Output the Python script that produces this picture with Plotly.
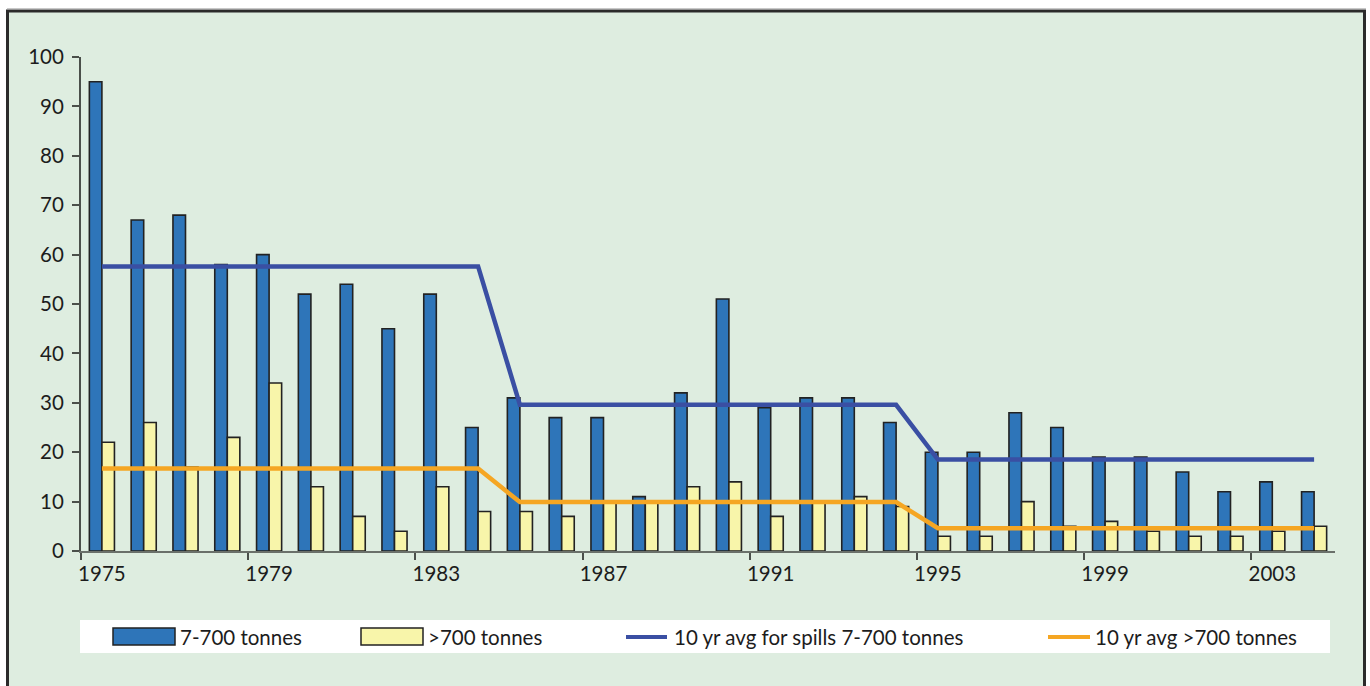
import plotly.graph_objects as go

years = [str(y) for y in range(1975, 2005)]
small_spills = [95, 67, 68, 58, 60, 52, 54, 45, 52, 25,
                31, 27, 27, 11, 32, 51, 29, 31, 31, 26,
                20, 20, 28, 25, 19, 19, 16, 12, 14, 12]
large_spills = [22, 26, 17, 23, 34, 13, 7, 4, 13, 8,
                8, 7, 10, 10, 13, 14, 7, 10, 11, 9,
                3, 3, 10, 5, 6, 4, 3, 3, 4, 5]
avg_small = [57.6] * 10 + [29.6] * 10 + [18.5] * 10
avg_large = [16.7] * 10 + [9.9] * 10 + [4.6] * 10

W, H = 1370, 686
L, R, T, B = 81, 35, 57, 135
PW, PH = W - L - R, H - T - B

def px(x):
    return (x - L) / PW

def py(y):
    return (H - B - y) / PH

FONT = "Lato"
FS = 20.5
TXT = "#1c1c1c"
BLUE = "#2E75B9"
YELLOW = "#F8F5AA"
LBLUE = "#3A4FA3"
ORANGE = "#F5A623"
BG = "#DEEDE0"

fig = go.Figure()
fig.add_trace(go.Bar(x=years, y=small_spills, name="7-700 tonnes",
                     marker=dict(color=BLUE, line=dict(color="#222222", width=1.6))))
fig.add_trace(go.Bar(x=years, y=large_spills, name=">700 tonnes",
                     marker=dict(color=YELLOW, line=dict(color="#222222", width=1.6))))
fig.add_trace(go.Scatter(x=years, y=avg_small, mode="lines",
                         name="10 yr avg for spills 7-700 tonnes",
                         line=dict(color=LBLUE, width=4.5)))
fig.add_trace(go.Scatter(x=years, y=avg_large, mode="lines",
                         name="10 yr avg >700 tonnes",
                         line=dict(color=ORANGE, width=4.5)))

shapes = [
    # faint line above the frame
    dict(type="line", xref="paper", yref="paper", layer="below",
         x0=px(7), x1=px(1366), y0=py(8.5), y1=py(8.5),
         line=dict(color="#c8c8c8", width=1)),
    # outer frame
    dict(type="rect", xref="paper", yref="paper", layer="below",
         x0=px(7.5), x1=px(1364.5), y0=py(720), y1=py(11),
         fillcolor=BG, line=dict(color="#2b2b2b", width=3)),
    # legend box
    dict(type="rect", xref="paper", yref="paper", layer="below",
         x0=px(80), x1=px(1330), y0=py(653), y1=py(620),
         fillcolor="white", line=dict(width=0)),
    dict(type="rect", xref="paper", yref="paper",
         x0=px(113), x1=px(175), y0=py(645), y1=py(628),
         fillcolor=BLUE, line=dict(color="#222222", width=1.5)),
    dict(type="rect", xref="paper", yref="paper",
         x0=px(361), x1=px(423), y0=py(645), y1=py(628),
         fillcolor=YELLOW, line=dict(color="#222222", width=1.5)),
    dict(type="line", xref="paper", yref="paper",
         x0=px(626), x1=px(667), y0=py(637), y1=py(637),
         line=dict(color=LBLUE, width=4)),
    dict(type="line", xref="paper", yref="paper",
         x0=px(1048), x1=px(1090), y0=py(637), y1=py(637),
         line=dict(color=ORANGE, width=4)),
]

annotations = []
for xpos, label in [(178, "7-700 tonnes"), (426, ">700 tonnes"),
                    (672, "10 yr avg for spills 7-700 tonnes"),
                    (1093, "10 yr avg >700 tonnes")]:
    annotations.append(dict(xref="paper", yref="paper", x=px(xpos), y=py(637),
                            xanchor="left", yanchor="middle", showarrow=False,
                            text=label, font=dict(family=FONT, size=FS, color=TXT)))

fig.update_layout(
    width=W, height=H,
    margin=dict(l=L, r=R, t=T, b=B, pad=0),
    paper_bgcolor="white",
    plot_bgcolor="rgba(0,0,0,0)",
    barmode="group",
    bargap=0.40,
    bargroupgap=0,
    showlegend=False,
    shapes=shapes,
    annotations=annotations,
    font=dict(family=FONT, size=FS, color=TXT),
    xaxis=dict(type="category", tickmode="linear", tick0=0, dtick=4,
               tickson="boundaries", ticks="outside", ticklen=7, tickwidth=1.5,
               tickangle=0, ticklabelstandoff=3,
               tickcolor="#4a4f4a", showline=True, linecolor="#6a706a", linewidth=2,
               showgrid=False, zeroline=False, range=[-0.5, 29.5],
               tickfont=dict(family=FONT, size=FS, color=TXT)),
    yaxis=dict(range=[0, 100], dtick=10, ticks="outside", ticklen=7, tickwidth=1.5,
               tickcolor="#4a4f4a", showline=True, linecolor="#4a4f4a", linewidth=2,
               showgrid=False, zeroline=False, ticklabelstandoff=4,
               tickfont=dict(family=FONT, size=FS, color=TXT)),
)

fig.write_html("out.html", config={"displayModeBar": False},
               post_script="document.body.style.margin='0px';document.body.style.overflow='hidden';")
